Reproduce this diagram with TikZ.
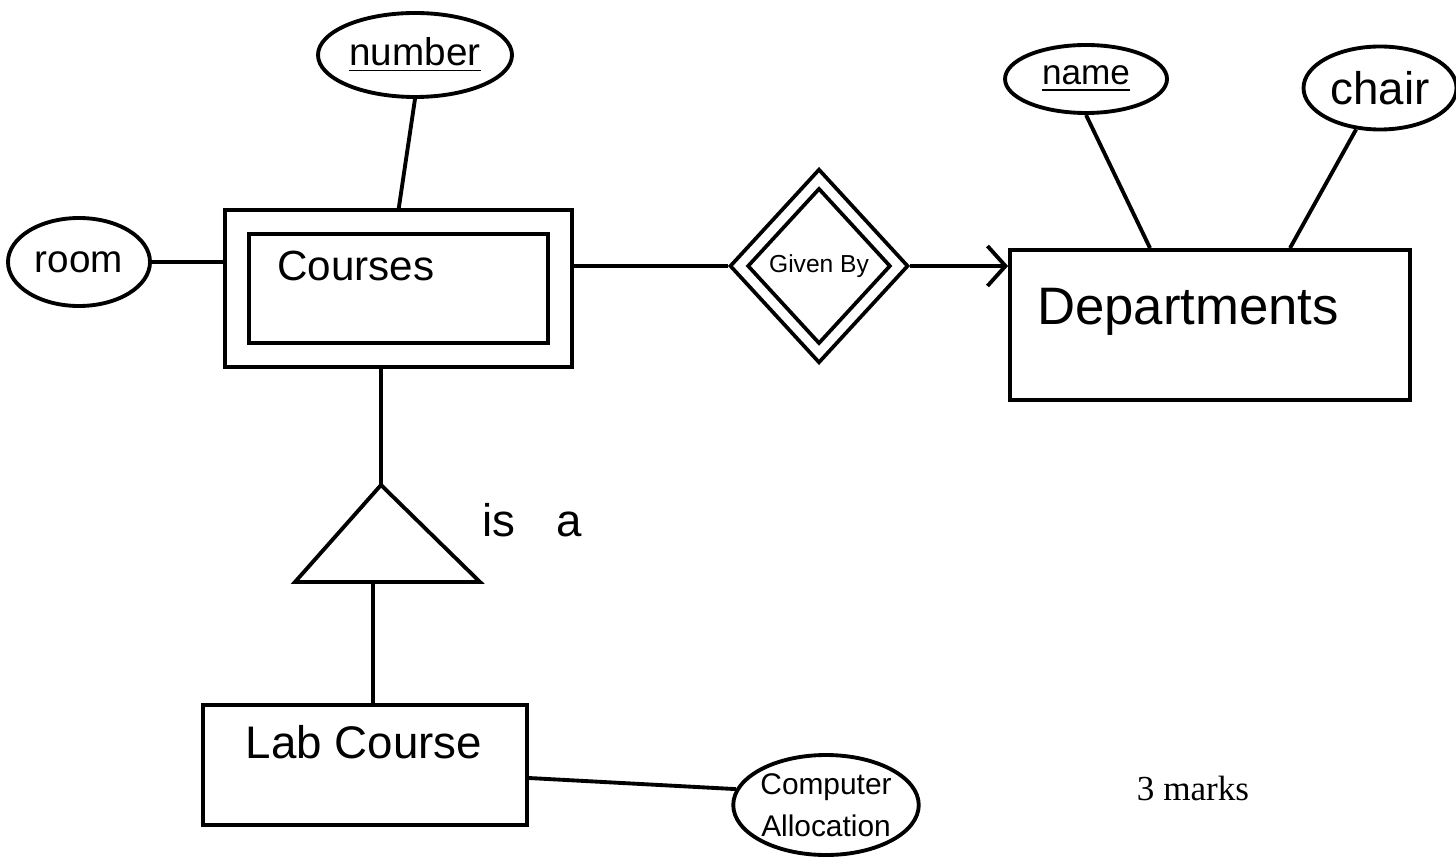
\documentclass[tikz,border=0pt]{standalone}
\usepackage{fontspec}
\setmainfont{Liberation Serif}
\newfontfamily\handfont{Liberation Sans}
\usetikzlibrary{shapes.geometric, arrows.meta, positioning, calc}
\tikzset{
	entity/.style ={rectangle, draw=black, line width=1.1pt, inner sep=0pt},
	weakent/.style={entity, double, double distance=2mm, outer sep=1.2mm},
	attr/.style   ={ellipse, draw=black, line width=1.1pt, inner sep=0pt},
	weakrel/.style={diamond, draw=black, line width=1.1pt, double, double distance=0.9mm, inner sep=0pt, outer sep=0.8mm},
	link/.style   ={line width=1.1pt},
	% hand-written labels
	hw/.style     ={font=\handfont\fontsize{#1}{#1}\selectfont},
}

\begin{document}
\begin{tikzpicture}
	\useasboundingbox (0,0) rectangle (14.56,8.57);
	% entity Courses with its attributes
	\node[weakent, minimum width=3.23cm, minimum height=1.33cm] (courses) at (3.985,5.685) {};
	\node[hw=12pt] (coursesLbl) at (3.56,5.91) {Courses};
	\node[attr, minimum width=1.94cm, minimum height=0.84cm, hw=11pt] (number) at (4.15,8.02) {\underline{number}};
	\node[attr, minimum width=1.42cm, minimum height=0.88cm, hw=11pt] (room) at (0.79,5.95) {room};
	\draw[link] (number.south) -- (courses.north);
	\draw[link] (room) -- (room -| courses.west);
	% relationship and Departments
	\node[weakrel, minimum width=1.66cm, minimum height=1.8cm, hw=7pt] (givenby) at (8.19,5.91) {Given By};
	\node[entity, minimum width=4.0cm, minimum height=1.5cm] (depts) at (12.10,5.32) {};
	\node[hw=15pt] (deptsLbl) at (11.88,5.45) {Departments};
	\node[attr, minimum width=1.62cm, minimum height=0.68cm, hw=10pt] (name) at (10.86,7.78) {\underline{name}};
	\node[attr, minimum width=1.53cm, minimum height=0.83cm, hw=13pt] (chair) at (13.80,7.69) {chair};
	\draw[link] (givenby.west -| courses.east) -- (givenby.west);
	\draw[link, -{Straight Barb[length=1.8mm, width=4mm]}] (givenby.east) -- (givenby.east -| depts.west);
	\draw[link] (name.south) -- ([xshift=-0.6cm]depts.north);
	\draw[link] (chair.240) -- ([xshift=0.8cm]depts.north);
	% is-a triangle
	\coordinate (isaTop) at (3.81,3.72);
	\coordinate (isaLeft) at (2.95,2.75);
	\coordinate (isaRight) at (4.80,2.75);
	\coordinate (isaBase) at (3.73,2.75);
	\draw[link] (isaTop) -- (isaRight) -- (isaLeft) -- cycle;
	\node[hw=13pt] (isaLbl) at (5.32,3.37) {is\hspace{0.9em}a};
	\draw[link] (isaTop |- courses.south) -- (isaTop);
	% subclass Lab Course
	\node[entity, minimum width=3.24cm, minimum height=1.20cm] (labcourse) at (3.65,0.92) {};
	\node[hw=13pt] (labcourseLbl) at (3.64,1.15) {Lab Course};
	\node[attr, minimum width=1.78cm, minimum height=1.0cm, align=center, font=\handfont\fontsize{8.5}{12}\selectfont] (compalloc) at (8.26,0.52) {Computer\\Allocation};
	\draw[link] (isaBase) -- (isaBase |- labcourse.north);
	\draw[link] ([yshift=-0.13cm]labcourse.east) -- (compalloc.170);
	% marks
	\node[font=\fontsize{10}{12}\selectfont] (marks) at (11.93,0.69) {3 marks};
\end{tikzpicture}
\end{document}
